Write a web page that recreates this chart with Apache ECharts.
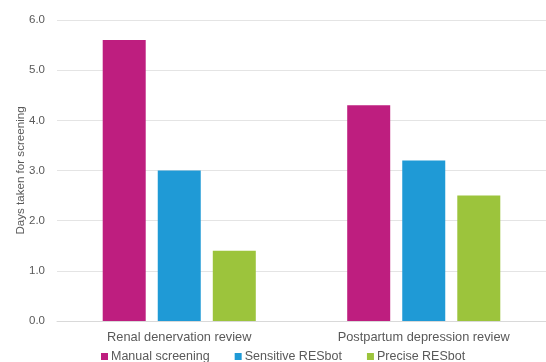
<!DOCTYPE html>
<html>
<head>
<meta charset="utf-8">
<script src="https://cdn.jsdelivr.net/npm/echarts@6/dist/echarts.min.js"></script>
<style>
  html, body { margin: 0; padding: 0; background: #fff; }
  #chart { width: 546px; height: 362px; }
</style>
</head>
<body>
<div id="chart"></div>
<script>
// Screening time per review, in days
const categories = ['Renal denervation review', 'Postpartum depression review'];
const manualScreening = [5.6, 4.3];
const sensitiveResbot = [3.0, 3.2];
const preciseResbot = [1.4, 2.5];
const seriesNames = ['Manual screening', 'Sensitive RESbot', 'Precise RESbot'];
const yTicks = { min: 0, max: 6, interval: 1 };

const colors = ['#BE1E7F', '#1F9AD6', '#9CC43C'];
const textColor = '#595959';
const font = 'Liberation Sans, Arial, sans-serif';

const chart = echarts.init(document.getElementById('chart'), null, { renderer: 'canvas' });

const seriesData = [manualScreening, sensitiveResbot, preciseResbot];

chart.setOption({
  animation: false,
  color: colors,
  grid: { left: 57, right: -3, top: 20, bottom: 41, containLabel: false },
  legend: {
    bottom: -6,
    left: 96,
    itemWidth: 7,
    itemHeight: 7,
    itemGap: 25,
    icon: 'rect',
    textStyle: { color: textColor, fontFamily: font, fontSize: 12.5, padding: [0, 0, 0, -2] },
    data: seriesNames
  },
  xAxis: {
    type: 'category',
    data: categories,
    axisLine: { lineStyle: { color: '#d9d9d9' } },
    axisTick: { show: false },
    axisLabel: { color: textColor, fontFamily: font, fontSize: 12.8, margin: 10 }
  },
  yAxis: {
    type: 'value',
    min: yTicks.min,
    max: yTicks.max,
    interval: yTicks.interval,
    name: 'Days taken for screening',
    nameLocation: 'middle',
    nameGap: 30,
    nameMoveOverlap: false,
    nameTextStyle: { color: textColor, fontFamily: font, fontSize: 11.6 },
    axisLine: { show: false },
    axisTick: { show: false },
    splitLine: { lineStyle: { color: '#e4e4e4' } },
    axisLabel: {
      color: textColor, fontFamily: font, fontSize: 11.5, margin: 12,
      formatter: v => v.toFixed(1)
    }
  },
  series: seriesNames.map((name, i) => ({
    name,
    type: 'bar',
    data: seriesData[i],
    barWidth: 43,
    barGap: '28%'
  }))
});
</script>
</body>
</html>
